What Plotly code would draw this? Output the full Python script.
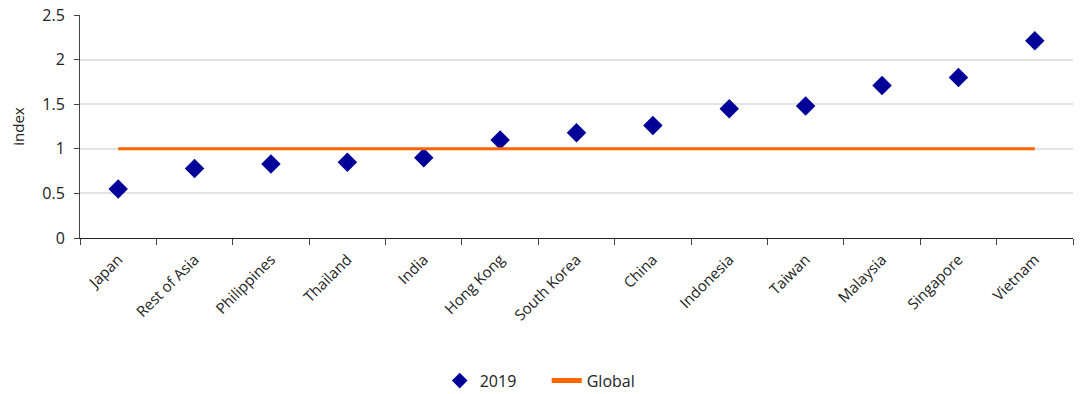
import plotly.graph_objects as go

categories = ["Japan", "Rest of Asia", "Philippines", "Thailand", "India", "Hong Kong",
              "South Korea", "China", "Indonesia", "Taiwan", "Malaysia", "Singapore", "Vietnam"]
values_2019 = [0.55, 0.78, 0.83, 0.85, 0.90, 1.10, 1.18, 1.26, 1.45, 1.48, 1.71, 1.80, 2.21]
global_values = [1.0] * len(categories)
y_ticks = [0, 0.5, 1, 1.5, 2, 2.5]
y_tick_labels = ["0", "0.5", "1", "1.5", "2", "2.5"]

font_family = "Open Sans, DejaVu Sans, sans-serif"

fig = go.Figure()
fig.add_trace(go.Scatter(
    x=categories, y=values_2019, mode="markers", name="2019",
    marker=dict(symbol="diamond", size=15, color="#000099"),
))
fig.add_trace(go.Scatter(
    x=categories, y=global_values, mode="lines", name="Global",
    line=dict(color="#FF6600", width=3),
))

fig.update_layout(
    width=1083, height=394,
    margin=dict(l=80, r=10, t=15, b=156, autoexpand=False),
    paper_bgcolor="white", plot_bgcolor="white",
    font=dict(family=font_family, size=15, color="#222222"),
    showlegend=True,
    legend=dict(orientation="h", x=0.47, xanchor="center", y=-0.64, yanchor="middle",
                font=dict(size=16), itemsizing="constant", tracegroupgap=0,
                entrywidth=62, entrywidthmode="pixels"),
    xaxis=dict(
        type="category", tickangle=-45, showgrid=False, range=[-0.5, 12.5],
        showline=True, linecolor="#222222", linewidth=1,
        ticks="outside", tickson="boundaries", ticklen=6, tickcolor="#444444",
        tickfont=dict(size=15), automargin=False, ticklabelstandoff=6,
    ),
    yaxis=dict(
        range=[0, 2.5], tickvals=y_ticks, ticktext=y_tick_labels,
        showgrid=True, gridcolor="#e3e3e3", gridwidth=2,
        showline=True, linecolor="#444444", linewidth=1,
        ticks="outside", ticklen=5, tickcolor="#444444",
        zeroline=False, tickfont=dict(size=16), automargin=False,
        ticklabelstandoff=6,
        title=dict(text="index", font=dict(size=15), standoff=14),
    ),
)

fig.write_html("out.html")
